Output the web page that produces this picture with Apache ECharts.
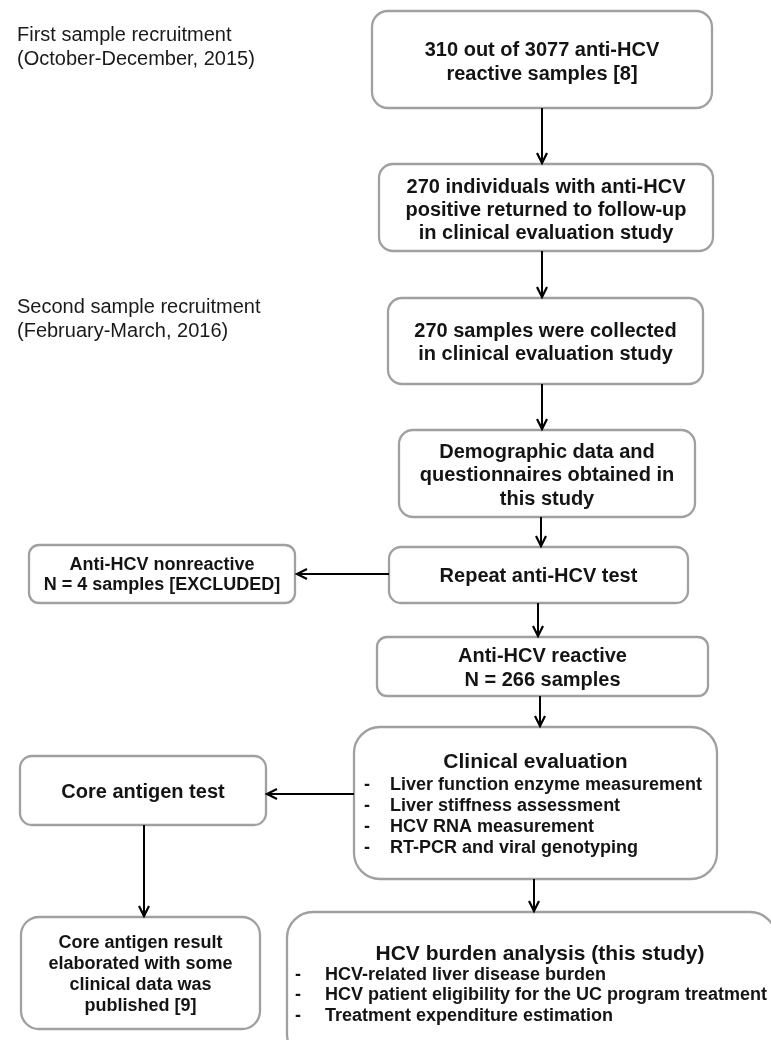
<!DOCTYPE html>
<html><head><meta charset="utf-8">
<script src="https://cdn.jsdelivr.net/npm/echarts@6/dist/echarts.min.js"></script>
<style>html,body{margin:0;padding:0;background:#fff}#c{width:771px;height:1040px}</style>
</head><body><div id="c"></div>
<script>
// ---- content ----
const sideLabels = [
  ['First sample recruitment', '(October-December, 2015)'],
  ['Second sample recruitment', '(February-March, 2016)']
];
const boxTexts = [
  ['310 out of 3077 anti-HCV', 'reactive samples [8]'],
  ['270 individuals with anti-HCV', 'positive returned to follow-up', 'in clinical evaluation study'],
  ['270 samples were collected', 'in clinical evaluation study'],
  ['Demographic data and', 'questionnaires obtained in', 'this study'],
  ['Repeat anti-HCV test'],
  ['Anti-HCV nonreactive', 'N = 4 samples [EXCLUDED]'],
  ['Anti-HCV reactive', 'N = 266 samples'],
  ['Core antigen test'],
  ['Core antigen result', 'elaborated with some', 'clinical data was', 'published [9]']
];
const listTitles = ['Clinical evaluation', 'HCV burden analysis (this study)'];
const listItems = [
  ['Liver function enzyme measurement', 'Liver stiffness assessment', 'HCV RNA measurement', 'RT-PCR and viral genotyping'],
  ['HCV-related liver disease burden', 'HCV patient eligibility for the UC program treatment', 'Treatment expenditure estimation']
];

// ---- layout (axis units: x 0..771, y 0..1040) ----
// [x0, y0, x1, y1, radius, firstLineY, lineGap, fontSize]
const boxLayout = [
  [372, 11, 712, 108, 16, 50, 24, 20],
  [379, 164, 713, 251, 14, 187, 23, 20],
  [388, 298, 703, 384, 14, 331, 23, 20],
  [399, 430, 695, 517, 14, 452, 23.5, 20],
  [389, 547, 688, 603, 12, 576, 0, 20],
  [29, 545, 295, 603, 10, 565, 20, 18],
  [377, 637, 708, 696, 10, 656, 24, 20],
  [20, 756, 266, 825, 12, 792, 0, 20],
  [21, 917, 260, 1029, 18, 943, 21, 18]
];
// [x0, y0, x1, y1, radius, titleY, firstBulletY, bulletGap, dashX, textX]
const listLayout = [
  [354, 727, 717, 879, 26, 762, 785, 21, 364, 390],
  [287, 912, 776, 1060, 26, 954, 975, 20.5, 295, 325]
];
// [x, y] of each side label's first line
const sideLayout = [[17, 35], [17, 307]];
const sideGap = 24;
// [x1, y1, x2, y2]
const arrowLayout = [
  [542, 108, 542, 163],
  [542, 251, 542, 297],
  [542, 384, 542, 429],
  [541, 517, 541, 546],
  [389, 574, 297, 574],
  [538, 603, 538, 636],
  [540, 696, 540, 726],
  [354, 794, 267, 794],
  [144, 825, 144, 916],
  [534, 879, 534, 911]
];

const FF = '"Liberation Sans", Arial, Helvetica, sans-serif';
const TXT = '#141414';
const BORDER = '#a0a0a0';

function pt(api, x, y) { return api.coord([x, y]); }

const chart = echarts.init(document.getElementById('c'), null, {renderer: 'canvas'});

const option = {
  animation: false,
  backgroundColor: '#ffffff',
  grid: {left: 0, right: 0, top: 0, bottom: 0, containLabel: false},
  xAxis: {type: 'value', min: 0, max: 771, show: false},
  yAxis: {type: 'value', min: 0, max: 1040, inverse: true, show: false},
  series: [
    {
      type: 'custom', name: 'boxes', clip: false,
      encode: {x: [0, 2], y: [1, 3]},
      data: boxLayout.map((b, i) => b.concat([i])),
      renderItem: function (params, api) {
        const i = api.value(8);
        const p0 = pt(api, api.value(0), api.value(1));
        const p1 = pt(api, api.value(2), api.value(3));
        const r = api.value(4), y0 = api.value(5), gap = api.value(6), fs = api.value(7);
        const cx = (api.value(0) + api.value(2)) / 2;
        const children = [{
          type: 'rect',
          shape: {x: p0[0], y: p0[1], width: p1[0] - p0[0], height: p1[1] - p0[1], r: r},
          style: {fill: '#ffffff', stroke: BORDER, lineWidth: 2.3}
        }];
        boxTexts[i].forEach((t, k) => {
          const p = pt(api, cx, y0 + k * gap);
          children.push({
            type: 'text',
            style: {text: t, x: p[0], y: p[1], align: 'center', verticalAlign: 'middle',
              fontFamily: FF, fontWeight: 'bold', fontSize: fs, fill: TXT}
          });
        });
        return {type: 'group', children: children};
      }
    },
    {
      type: 'custom', name: 'lists', clip: false,
      encode: {x: [0, 2], y: [1, 3]},
      data: listLayout.map((b, i) => b.concat([i])),
      renderItem: function (params, api) {
        const i = api.value(10);
        const p0 = pt(api, api.value(0), api.value(1));
        const p1 = pt(api, api.value(2), api.value(3));
        const r = api.value(4);
        const cx = (api.value(0) + api.value(2)) / 2;
        const children = [{
          type: 'rect',
          shape: {x: p0[0], y: p0[1], width: p1[0] - p0[0], height: p1[1] - p0[1], r: r},
          style: {fill: '#ffffff', stroke: BORDER, lineWidth: 2.3}
        }];
        const tcx = i === 0 ? cx : 540;
        const tp = pt(api, tcx, api.value(5));
        children.push({
          type: 'text',
          style: {text: listTitles[i], x: tp[0], y: tp[1], align: 'center', verticalAlign: 'middle',
            fontFamily: FF, fontWeight: 'bold', fontSize: 21, fill: TXT}
        });
        listItems[i].forEach((t, k) => {
          const yy = api.value(6) + k * api.value(7);
          const dp = pt(api, api.value(8), yy);
          const xp = pt(api, api.value(9), yy);
          children.push({
            type: 'text',
            style: {text: '-', x: dp[0], y: dp[1], align: 'left', verticalAlign: 'middle',
              fontFamily: FF, fontWeight: 'bold', fontSize: 18, fill: TXT}
          });
          children.push({
            type: 'text',
            style: {text: t, x: xp[0], y: xp[1], align: 'left', verticalAlign: 'middle',
              fontFamily: FF, fontWeight: 'bold', fontSize: 18, fill: TXT}
          });
        });
        return {type: 'group', children: children};
      }
    },
    {
      type: 'custom', name: 'side', clip: false,
      encode: {x: 0, y: 1},
      data: sideLayout.map((s, i) => s.concat([i])),
      renderItem: function (params, api) {
        const i = api.value(2);
        const children = sideLabels[i].map((t, k) => {
          const p = pt(api, api.value(0), api.value(1) + k * sideGap);
          return {type: 'text', style: {text: t, x: p[0], y: p[1], align: 'left', verticalAlign: 'middle',
            fontFamily: FF, fontWeight: 'normal', fontSize: 20, fill: '#1a1a1a'}};
        });
        return {type: 'group', children: children};
      }
    },
    {
      type: 'custom', name: 'arrows', clip: false,
      encode: {x: [0, 2], y: [1, 3]},
      data: arrowLayout,
      renderItem: function (params, api) {
        const a = pt(api, api.value(0), api.value(1));
        const b = pt(api, api.value(2), api.value(3));
        const dx = b[0] - a[0], dy = b[1] - a[1];
        const len = Math.sqrt(dx * dx + dy * dy);
        const ux = dx / len, uy = dy / len;
        const hl = 10, hw = 5;
        const h1 = [b[0] - ux * hl - uy * hw, b[1] - uy * hl + ux * hw];
        const h2 = [b[0] - ux * hl + uy * hw, b[1] - uy * hl - ux * hw];
        return {type: 'group', children: [
          {type: 'line', shape: {x1: a[0], y1: a[1], x2: b[0] - ux * 1, y2: b[1] - uy * 1},
            style: {stroke: '#000', lineWidth: 2}},
          {type: 'polyline', shape: {points: [h1, b, h2]},
            style: {stroke: '#000', lineWidth: 2.2, fill: null, lineJoin: 'miter'}}
        ]};
      }
    }
  ]
};
chart.setOption(option);
</script>
</body></html>
